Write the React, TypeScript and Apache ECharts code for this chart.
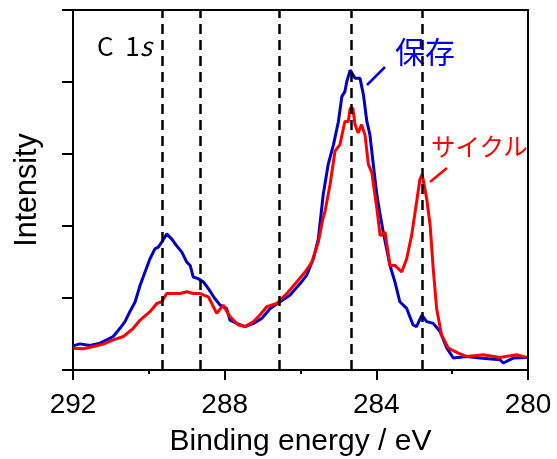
import React, { useEffect, useRef } from "react";
import * as echarts from "echarts";

// Binding energy (eV) and intensity
const blueEnergy = [292.0, 291.82, 291.55, 291.29, 291.11, 290.94, 290.76, 290.63, 290.5, 290.36, 290.23, 290.1, 289.97, 289.84, 289.75, 289.66, 289.53, 289.4, 289.27, 289.13, 289.0, 288.91, 288.83, 288.7, 288.56, 288.43, 288.26, 288.12, 287.95, 287.86, 287.68, 287.46, 287.24, 287.02, 286.8, 286.54, 286.28, 286.01, 285.84, 285.66, 285.53, 285.4, 285.27, 285.13, 285.0, 284.91, 284.83, 284.78, 284.69, 284.56, 284.43, 284.34, 284.25, 284.17, 284.08, 283.99, 283.9, 283.82, 283.64, 283.51, 283.38, 283.2, 283.03, 282.94, 282.8, 282.67, 282.5, 282.32, 282.14, 281.97, 281.62, 281.27, 280.74, 280.65, 280.39, 280.03];
const blueIntensity = [0.335, 0.363, 0.341, 0.372, 0.418, 0.465, 0.579, 0.672, 0.81, 0.948, 1.177, 1.361, 1.545, 1.683, 1.706, 1.775, 1.89, 1.821, 1.728, 1.637, 1.499, 1.452, 1.292, 1.269, 1.223, 1.131, 0.993, 0.901, 0.855, 0.694, 0.648, 0.603, 0.648, 0.717, 0.855, 0.948, 1.039, 1.2, 1.314, 1.545, 1.821, 2.441, 2.855, 3.131, 3.452, 3.797, 3.866, 4.004, 4.166, 4.051, 4.051, 3.821, 3.452, 3.269, 2.855, 2.45, 2.16, 1.92, 1.452, 1.223, 0.948, 0.855, 0.625, 0.603, 0.763, 0.672, 0.648, 0.534, 0.303, 0.166, 0.189, 0.166, 0.142, 0.097, 0.166, 0.175];

const redEnergy = [291.99, 291.73, 291.46, 291.2, 290.94, 290.67, 290.41, 290.23, 289.97, 289.79, 289.66, 289.53, 289.35, 289.18, 289.0, 288.83, 288.65, 288.43, 288.21, 288.04, 287.86, 287.64, 287.46, 287.24, 287.07, 286.89, 286.63, 286.36, 286.1, 285.88, 285.7, 285.53, 285.41, 285.35, 285.22, 285.09, 284.96, 284.83, 284.74, 284.69, 284.62, 284.56, 284.48, 284.39, 284.3, 284.21, 284.12, 283.99, 283.9, 283.77, 283.64, 283.51, 283.33, 283.2, 283.07, 282.94, 282.85, 282.79, 282.67, 282.58, 282.5, 282.41, 282.28, 282.1, 281.84, 281.62, 281.18, 280.74, 280.3, 280.04];
const redIntensity = [0.303, 0.294, 0.327, 0.359, 0.418, 0.465, 0.579, 0.694, 0.81, 0.924, 0.948, 1.062, 1.062, 1.062, 1.086, 1.062, 1.062, 1.017, 0.786, 0.901, 0.741, 0.625, 0.603, 0.672, 0.763, 0.879, 0.924, 1.062, 1.223, 1.361, 1.499, 1.775, 2.097, 2.211, 2.579, 3.039, 3.131, 3.452, 3.452, 3.637, 3.637, 3.407, 3.292, 3.407, 3.269, 2.855, 2.741, 2.258, 1.866, 1.913, 1.452, 1.452, 1.361, 1.545, 1.866, 2.327, 2.648, 2.717, 2.372, 2.004, 1.407, 0.855, 0.487, 0.303, 0.234, 0.189, 0.211, 0.175, 0.211, 0.175];

const referenceLines = [289.65, 288.65, 286.55, 284.65, 282.8];
const seriesNames = ["保存", "サイクル"];

const FONT = "'Noto Sans CJK JP', 'Noto Sans', sans-serif";
const LATIN = "'Liberation Sans', Arial, sans-serif";

export default function App() {
  const ref = useRef<HTMLDivElement>(null);
  useEffect(() => {
    if (!ref.current) return;
    const chart = echarts.init(ref.current, null, { renderer: "svg" });
    const zip = (xs: number[], ys: number[]) => xs.map((x, i) => [x, ys[i]]);
    chart.setOption({
      animation: false,
      textStyle: { fontFamily: FONT },
      grid: {
        left: 73,
        right: 29,
        top: 10,
        bottom: 87,
        show: true,
        borderColor: "#000",
        borderWidth: 2,
        containLabel: false,
      },
      xAxis: {
        type: "value",
        min: 280,
        max: 292,
        interval: 4,
        inverse: true,
        name: "Binding energy / eV",
        nameLocation: "middle",
        nameGap: 54,
        nameTextStyle: { fontSize: 30, lineHeight: 30, color: "#000", fontFamily: LATIN },
        axisLine: { show: true, lineStyle: { color: "#000", width: 2 } },
        axisTick: { show: true, length: 10, lineStyle: { color: "#000", width: 2 } },
        minorTick: { show: true, splitNumber: 2, length: 4, lineStyle: { color: "#000", width: 2 } },
        axisLabel: { fontSize: 28, lineHeight: 28, color: "#000", margin: 19, fontFamily: LATIN },
        splitLine: { show: false },
      },
      yAxis: {
        type: "value",
        min: 0,
        max: 5,
        interval: 1,
        name: "Intensity",
        nameLocation: "middle",
        nameGap: 33,
        nameTextStyle: { fontSize: 30.5, lineHeight: 30, color: "#000", fontFamily: LATIN },
        axisLine: { show: true, lineStyle: { color: "#000", width: 2 } },
        axisTick: { show: true, length: 11, lineStyle: { color: "#000", width: 2 } },
        axisLabel: { show: false },
        splitLine: { show: false },
      },
      series: [
        {
          name: seriesNames[0],
          type: "line",
          data: zip(blueEnergy, blueIntensity),
          showSymbol: false,
          lineStyle: { color: "#0000c8", width: 3 },
          z: 2,
        },
        {
          name: seriesNames[1],
          type: "line",
          data: zip(redEnergy, redIntensity),
          showSymbol: false,
          lineStyle: { color: "#ff0000", width: 3 },
          z: 3,
        },
        {
          name: "ref",
          type: "line",
          data: [],
          z: 5,
          markLine: {
            silent: true,
            symbol: ["none", "none"],
            label: { show: false },
            lineStyle: { color: "#000", type: [10, 6], width: 2.5 },
            data: referenceLines.map((v) => ({ xAxis: v })),
          },
        },
      ],
      graphic: [
        {
          type: "text",
          left: 97,
          top: 31,
          style: {
            text: "{n|C  1}{i|s}",
            rich: {
              n: { fontSize: 26, fontFamily: FONT, fill: "#000" },
              i: { fontSize: 26, fontFamily: FONT, fontStyle: "italic", fill: "#000" },
            },
          },
        },
        {
          type: "text",
          left: 395,
          top: 35,
          style: { text: seriesNames[0], fontSize: 30, fontFamily: FONT, fill: "#0000ee" },
        },
        {
          type: "line",
          shape: { x1: 367, y1: 85, x2: 385, y2: 67 },
          style: { stroke: "#0000ee", lineWidth: 2.5 },
        },
        {
          type: "text",
          left: 431,
          top: 133,
          style: { text: seriesNames[1], fontSize: 24.5, fontFamily: FONT, fill: "#ff0000" },
        },
        {
          type: "line",
          shape: { x1: 430, y1: 182, x2: 447, y2: 168 },
          style: { stroke: "#ff0000", lineWidth: 2.5 },
        },
      ],
    });
    return () => chart.dispose();
  }, []);
  return (
    <div
      ref={ref}
      style={{ position: "fixed", left: 0, top: 0, width: 557, height: 459 }}
    />
  );
}
